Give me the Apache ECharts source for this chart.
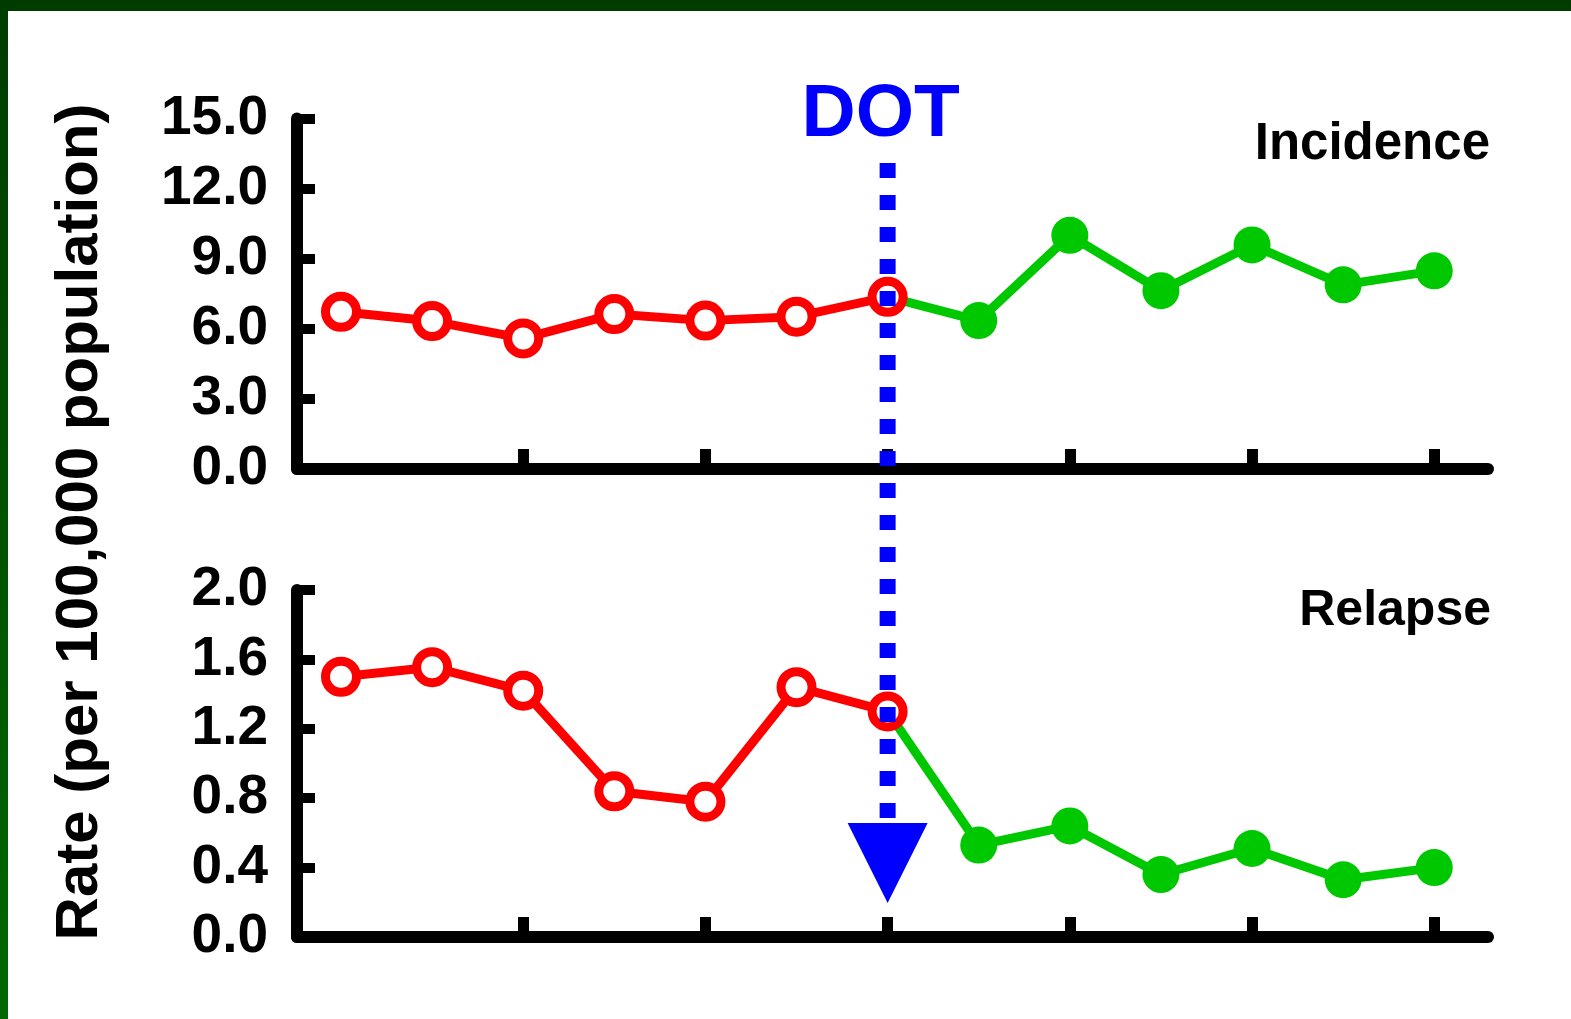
<!DOCTYPE html>
<html><head><meta charset="utf-8">
<script src="https://cdn.jsdelivr.net/npm/echarts@6/dist/echarts.min.js"></script>
<style>html,body{margin:0;padding:0;background:#fff;}#c{width:1571px;height:1019px;}</style>
</head><body><div id="c"></div>
<script>
const periods = [0,1,2,3,4,5,6,7,8,9,10,11,12];
const dotIndex = 6;
const incidence = [6.73, 6.33, 5.59, 6.63, 6.35, 6.52, 7.37, 6.35, 10.0, 7.63, 9.59, 7.88, 8.48];
const relapse   = [1.50, 1.555, 1.42, 0.84, 0.78, 1.44, 1.30, 0.53, 0.64, 0.36, 0.51, 0.33, 0.40];
const xTicks = [2,4,6,8,10,12];

const FONT = '"Liberation Sans", Arial, sans-serif';
const RED = '#ff0000', GREEN = '#00c800', BLUE = '#0000ff';

function before(arr){ return periods.filter(p=>p<=dotIndex).map(p=>[p,arr[p]]); }
function after(arr){ return periods.filter(p=>p>=dotIndex).map(p=>p===dotIndex?{value:[p,arr[p]],symbol:'none'}:[p,arr[p]]); }

function xAx(gi){
  return {gridIndex:gi,type:'value',min:-0.483,max:12.59,
    axisLine:{show:true,onZero:false,lineStyle:{color:'#000',width:12}},
    axisTick:{show:true,inside:true,length:20,lineStyle:{color:'#000',width:11},customValues:xTicks},
    axisLabel:{show:false},splitLine:{show:false}};
}
function yAx(gi,max,interval,dec){
  return {gridIndex:gi,type:'value',min:0,max:max,interval:interval,
    axisLine:{show:true,onZero:false,lineStyle:{color:'#000',width:12}},
    axisTick:{show:true,inside:true,length:18,lineStyle:{color:'#000',width:10}},
    axisLabel:{show:true,margin:29,color:'#000',fontFamily:FONT,fontWeight:'bold',fontSize:55,
      formatter:v=>v.toFixed(dec)},
    splitLine:{show:false}};
}
function lineSeries(xi,data,color,hollow,size,z){
  return {type:'line',xAxisIndex:xi,yAxisIndex:xi,data:data,symbol:'circle',symbolSize:size,
    showSymbol:true,z:z,
    lineStyle:{color:color,width:9},
    itemStyle:hollow?{color:'#ffffff',borderColor:color,borderWidth:9}:{color:color,borderWidth:0},
    emphasis:{disabled:true}};
}

const chart = echarts.init(document.getElementById('c'),null,{renderer:'canvas'});
chart.setOption({
  animation:false,
  backgroundColor:'#fff',
  grid:[{left:297,top:118.5,width:1191,height:350.5},{left:297,top:590,width:1191,height:347}],
  xAxis:[xAx(0),xAx(1)],
  yAxis:[yAx(0,15,3,1),yAx(1,2,0.4,1)],
  series:[
    lineSeries(0,after(incidence),GREEN,false,37,2),
    lineSeries(0,before(incidence),RED,true,31,3),
    lineSeries(1,after(relapse),GREEN,false,37,2),
    lineSeries(1,before(relapse),RED,true,31,3)
  ]
});

const px = chart.convertToPixel({xAxisIndex:0},dotIndex);
chart.setOption({
  graphic:[
    {type:'rect',left:0,top:0,shape:{width:1571,height:11},style:{fill:'#003c00'},z:100},
    {type:'rect',left:0,top:0,shape:{width:8,height:1019},
      style:{fill:new echarts.graphic.LinearGradient(0,0,0,1,[{offset:0,color:'#003c00'},{offset:1,color:'#006800'}])},z:100},
    {type:'text',x:80,y:522,rotation:Math.PI/2,z:50,
      style:{text:'Rate (per 100,000 population)',font:'bold 60px '+FONT,fill:'#000',align:'center',verticalAlign:'middle'}},
    {type:'text',x:1490,y:145,z:50,
      style:{text:'Incidence',font:'bold 51px '+FONT,fill:'#000',align:'right',verticalAlign:'middle'}},
    {type:'text',x:1491,y:611,z:50,
      style:{text:'Relapse',font:'bold 50px '+FONT,fill:'#000',align:'right',verticalAlign:'middle'}},
    {type:'text',x:px-7,y:115,z:50,
      style:{text:'DOT',font:'bold 75px '+FONT,fill:BLUE,align:'center',verticalAlign:'middle'}},
    {type:'line',z:60,shape:{x1:px,y1:163,x2:px,y2:818},
      style:{stroke:BLUE,lineWidth:16,lineDash:[15,17]}},
    {type:'polygon',z:60,shape:{points:[[px-40,823],[px+40,823],[px,903]]},style:{fill:BLUE}}
  ]
});
</script></body></html>
